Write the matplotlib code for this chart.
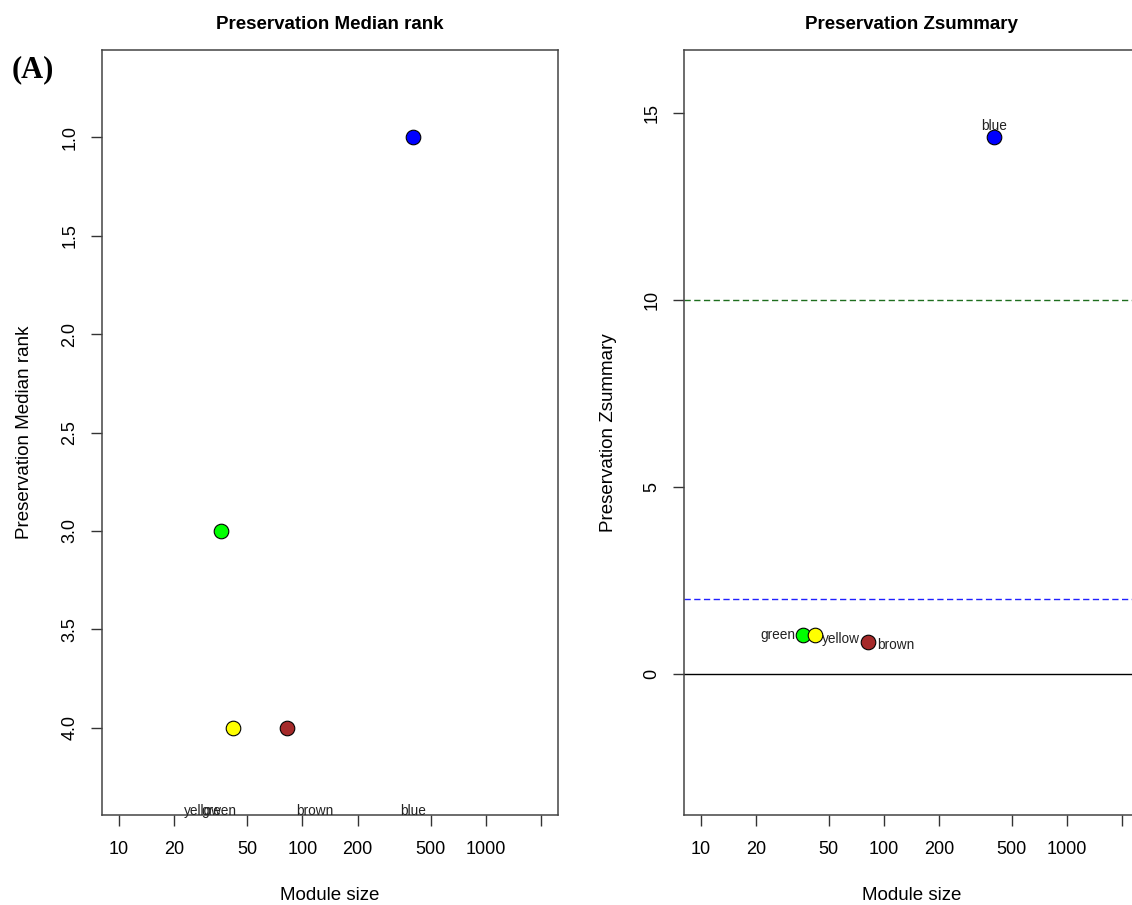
import numpy as np
import matplotlib
matplotlib.use("Agg")
import matplotlib.pyplot as plt

plt.rcParams['font.family'] = ['Liberation Sans', 'DejaVu Sans']

# module preservation statistics
modules     = ['blue', 'brown', 'green', 'yellow']
mod_colors  = ['#0000FF', '#A52A2A', '#00FF00', '#FFFF00']
mod_sizes   = [400, 82, 36, 42]
median_rank = [1, 4, 3, 4]
zsummary    = [14.35, 0.86, 1.05, 1.03]

x_ticks  = [10, 20, 50, 100, 200, 500, 1000, 2000]
x_labels = ['10', '20', '50', '100', '200', '500', '1000', '']

# label offsets (points) for each module, per panel
rank_offs = {'blue': (0, 3), 'brown': (20, 3), 'green': (-1.5, 3), 'yellow': (-22, 3)}
z_offs    = {'blue': (0, 8), 'brown': (20, -2.5), 'green': (-18, 0), 'yellow': (19, -2.5)}


def r_extend(lo, hi, frac=0.04):
    d = (hi - lo) * frac
    return lo - d, hi + d


def log_xlim(a, b):
    lo, hi = r_extend(np.log10(a), np.log10(b))
    return 10 ** lo, 10 ** hi


fig = plt.figure(figsize=(11.32, 9.05), dpi=100)
ax1 = fig.add_axes([102 / 1132, 1 - 815 / 905, 456 / 1132, 765 / 905])
ax2 = fig.add_axes([684 / 1132, 1 - 815 / 905, 455 / 1132, 765 / 905])

titles = ['Preservation Median rank', 'Preservation Zsummary']
for p, (ax, vals) in enumerate([(ax1, median_rank), (ax2, zsummary)]):
    vmin, vmax = min(vals), max(vals)
    if p == 1:
        if vmin > -vmax / 10:
            vmin = -vmax / 10
        ylim = r_extend(vmin - 0.1 * (vmax - vmin), vmax + 0.1 * (vmax - vmin))
    else:
        lo, hi = r_extend(vmin - 0.1 * (vmax - vmin), vmax + 0.1 * (vmax - vmin))
        ylim = (hi, lo)

    if p == 1:
        ax.axhline(0, color='black', lw=1.0, zorder=1)
        ax.axhline(2, color='#2020FF', lw=1.0, dashes=(4.5, 2.5), zorder=1)
        ax.axhline(10, color='#1E6E1E', lw=1.0, dashes=(4.5, 2.5), zorder=1)

    for m, c, s, v in zip(modules, mod_colors, mod_sizes, vals):
        ax.plot(s, v, 'o', color=c, markeredgecolor='black', markersize=10.5,
                markeredgewidth=0.8, zorder=3)

    # point labels
    for m, s, v in zip(modules, mod_sizes, vals):
        if p == 0:
            dx, dy = rank_offs[m]
            ax.annotate(m, xy=(s, 0), xycoords=('data', 'axes fraction'),
                        xytext=(dx, dy), textcoords='offset points',
                        ha='center', va='center', fontsize=9.8, color='#222222', zorder=4)
        else:
            dx, dy = z_offs[m]
            ax.annotate(m, xy=(s, v), xytext=(dx, dy), textcoords='offset points',
                        ha='center', va='center', fontsize=9.8, color='#222222', zorder=4)

    ax.set_xscale('log')
    ax.set_xlim(*log_xlim(10, 2000))
    ax.set_ylim(*ylim)
    ax.set_xticks(x_ticks)
    ax.set_xticklabels(x_labels)
    ax.xaxis.set_minor_locator(matplotlib.ticker.NullLocator())
    if p == 0:
        ax.set_yticks([1.0, 1.5, 2.0, 2.5, 3.0, 3.5, 4.0])
        ax.set_yticklabels(['1.0', '1.5', '2.0', '2.5', '3.0', '3.5', '4.0'])
    else:
        ax.set_yticks([0, 5, 10, 15])
        ax.set_yticklabels(['0', '5', '10', '15'])

    ax.tick_params(axis='x', length=8, width=1, labelsize=13, pad=11, color='#333333')
    ax.tick_params(axis='y', length=8, width=1, labelsize=13, pad=9,
                   labelrotation=90, color='#333333')
    for lab in ax.get_yticklabels():
        lab.set_va('center')
    for sp in ax.spines.values():
        sp.set_color('#444444')
        sp.set_linewidth(1.1)

    ax.set_title(titles[p], fontsize=13.5, fontweight='bold', pad=15)
    ax.set_xlabel('Module size', fontsize=13.5, va='center')
    ax.set_ylabel(titles[p], fontsize=13.5)
    ax.xaxis.set_label_coords(0.5, -0.105)

ax1.yaxis.set_label_coords(-0.151, 0.5)
ax2.yaxis.set_label_coords(-0.148, 0.5)

fig.text(12 / 1132, 1 - 70 / 905, '(A)', family='Liberation Serif', fontweight='bold',
         fontsize=22, ha='left', va='center')

fig.savefig('out.png', dpi=100)
